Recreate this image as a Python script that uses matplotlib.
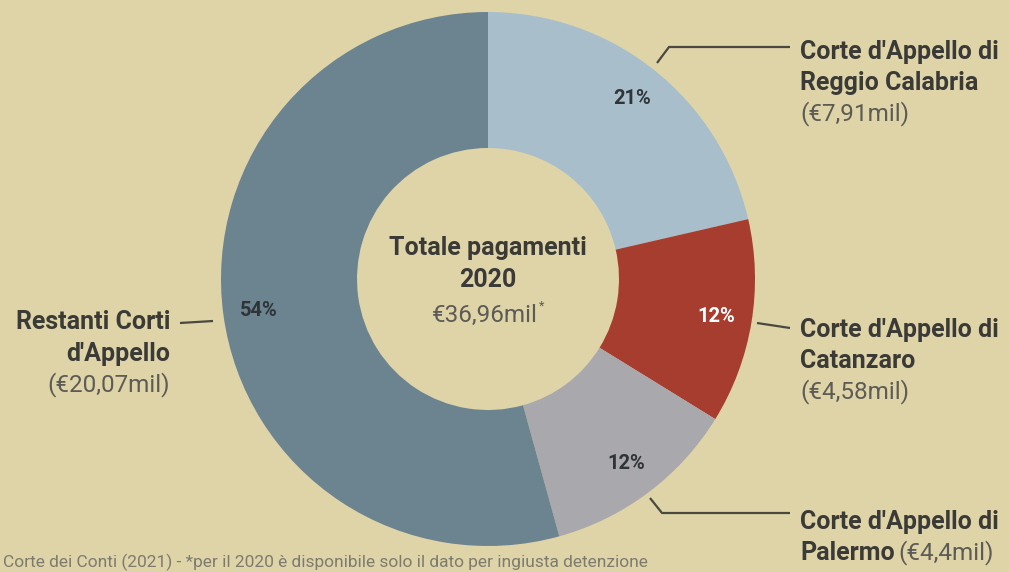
import matplotlib
matplotlib.use('Agg')
import matplotlib.pyplot as plt

# payments by court of appeal, million euro (2020)
courts = ["Corte d'Appello di\nReggio Calabria", "Corte d'Appello di\nCatanzaro",
          "Corte d'Appello di\nPalermo", "Restanti Corti\nd'Appello"]
amounts = [7.91, 4.58, 4.4, 20.07]
amount_labels = ["(€7,91mil)", "(€4,58mil)", "(€4,4mil)", "(€20,07mil)"]
colors = ['#A8BFCB', '#A63D2F', '#A8A8AD', '#6C8390']
pct_colors = ['#2f3438', '#ffffff', '#2f3438', '#2f3438']
total_label = "€36,96mil"
source = "Corte dei Conti (2021) - *per il 2020 è disponibile solo il dato per ingiusta detenzione"

W, H = 1009, 572
BG = '#DFD4A8'
DARK = '#3a3a36'
GREY = '#5c5b55'

plt.rcParams['font.family'] = ['Roboto', 'DejaVu Sans']

fig = plt.figure(figsize=(W / 100, H / 100), dpi=100, facecolor=BG)
ax = fig.add_axes([0, 0, 1, 1])
ax.set_facecolor(BG)


def Y(py):
    # pixel rows from the top -> data y
    return H - py


cx, cy, R = 488, Y(279), 267
wedges, _, pcts = ax.pie(amounts, colors=colors, startangle=90, counterclock=False,
                         center=(cx, cy), radius=R, autopct='%.0f%%', pctdistance=0.865,
                         wedgeprops=dict(width=R - 131, linewidth=0),
                         textprops=dict(fontsize=14.5, fontweight='bold'))
for t, c in zip(pcts, pct_colors):
    t.set_color(c)

ax.set_xlim(0, W)
ax.set_ylim(0, H)
ax.set_aspect('equal')
ax.axis('off')

# centre text
ax.text(cx, Y(248), "Totale pagamenti", ha='center', va='center', fontsize=18,
        fontweight='bold', color=DARK)
ax.text(cx, Y(280), "2020", ha='center', va='center', fontsize=18,
        fontweight='bold', color=DARK)
tot = ax.text(cx - 3, Y(315), total_label, ha='center', va='center', fontsize=17.5,
              color=GREY)
fig.canvas.draw()
tb = tot.get_window_extent()
ax.text(tb.x1 + 1, Y(306), "*", ha='left', va='center', fontsize=9, color=GREY)

# leader lines
line_kw = dict(color='#4a4940', lw=1.6, solid_capstyle='butt')
ax.plot([657, 669, 790], [Y(63), Y(47), Y(47)], **line_kw)
ax.plot([757, 790], [Y(323), Y(328)], **line_kw)
ax.plot([650, 662, 790], [Y(498), Y(513), Y(513)], **line_kw)
ax.plot([180, 213], [Y(323), Y(321)], **line_kw)

lab_kw = dict(fontsize=18, fontweight='bold', color=DARK)
val_kw = dict(fontsize=17.5, color=GREY)

# Reggio Calabria
ax.text(800, Y(52), courts[0].split('\n')[0], ha='left', va='center', **lab_kw)
ax.text(800, Y(83), courts[0].split('\n')[1], ha='left', va='center', **lab_kw)
ax.text(800, Y(114), amount_labels[0], ha='left', va='center', **val_kw)

# Catanzaro
ax.text(800, Y(330), courts[1].split('\n')[0], ha='left', va='center', **lab_kw)
ax.text(800, Y(361), courts[1].split('\n')[1], ha='left', va='center', **lab_kw)
ax.text(800, Y(392), amount_labels[1], ha='left', va='center', **val_kw)

# Palermo: bold name and value on the same line
ax.text(800, Y(522), courts[2].split('\n')[0], ha='left', va='center', **lab_kw)
pal = ax.text(800, Y(553), courts[2].split('\n')[1], ha='left', va='center', **lab_kw)
fig.canvas.draw()
bb = pal.get_window_extent()
ax.text(bb.x1 + 4, Y(553), amount_labels[2], ha='left', va='center', **val_kw)

# remaining courts, right aligned
ax.text(170, Y(322), courts[3].split('\n')[0], ha='right', va='center', **lab_kw)
ax.text(170, Y(354), courts[3].split('\n')[1], ha='right', va='center', **lab_kw)
ax.text(170, Y(385), amount_labels[3], ha='right', va='center', **val_kw)

ax.text(3, Y(562), source, ha='left', va='center', fontsize=12.5, color='#7d7b70')

fig.savefig('out.png', dpi=100, facecolor=BG)
